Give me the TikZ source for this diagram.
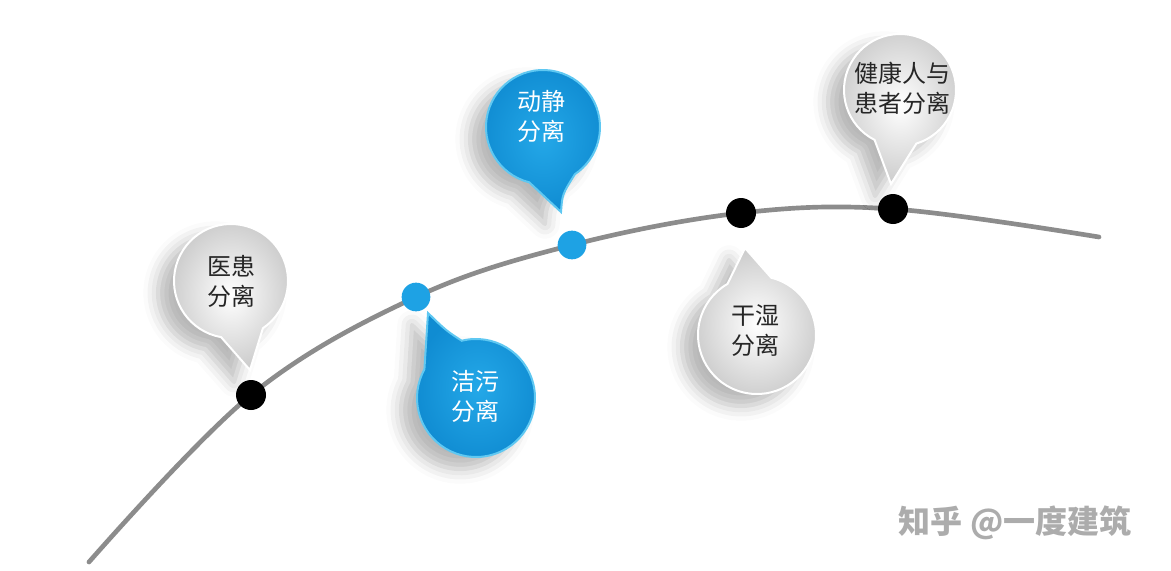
\documentclass[tikz,border=0pt]{standalone}
\usepackage{fontspec}
\newfontfamily\cjk{Noto Sans CJK SC}
\usetikzlibrary{calc,shadows.blur}
\definecolor{curvegrey}{RGB}{140,140,140}
\definecolor{dotblue}{RGB}{30,162,228}
\definecolor{bubbleblue}{RGB}{36,168,232}
\definecolor{bubbleblueout}{RGB}{16,140,210}
\definecolor{rimblue}{RGB}{95,200,242}
\definecolor{markgrey}{RGB}{172,172,172}

\begin{document}
\begin{tikzpicture}[x=0.75pt,y=0.75pt,yscale=-1,xscale=1,
  greybubble/.style={inner color=white,outer color=black!20,draw=white,line width=1.5,line join=miter,
    blur shadow={shadow xshift=-12pt,shadow yshift=-9pt,shadow blur radius=11pt,shadow opacity=28}},
  bluebubble/.style={inner color=bubbleblue,outer color=bubbleblueout,draw=rimblue,line width=1.5,line join=miter,
    blur shadow={shadow xshift=-12pt,shadow yshift=-9pt,shadow blur radius=11pt,shadow opacity=28}},
  blackdot/.style={circle,fill=black,inner sep=0pt,minimum size=22.5pt},
  bluedot/.style={circle,fill=dotblue,inner sep=0pt,minimum size=21.5pt},
  darklabel/.style={align=center,text=black!85,font=\cjk\fontsize{18}{22.5}\selectfont},
  lightlabel/.style={align=center,text=white,font=\cjk\fontsize{18}{22.5}\selectfont}]
\useasboundingbox (0,0) rectangle (1171,571);

%Curve
\draw [color=curvegrey,line width=3.5,line cap=round] plot [smooth,tension=0.6] coordinates {(89,562) (251,395) (416,297) (572,245) (741,213) (893,209) (1099,237)};

%Centres of the bubbles
\coordinate (c1) at (231,281);
\coordinate (c2) at (476,398);
\coordinate (c3) at (543,127);
\coordinate (c4) at (757,335);
\coordinate (c5) at (900,90);

%Shape: Bubble (grey, down)
\path [greybubble] ($(c1)+(100:57)$) arc [start angle=100,end angle=416,radius=57] -- (250,370) -- cycle;
%Shape: Bubble (blue, up)
\path [bluebubble] ($(c2)+(256:59)$) arc [start angle=256,end angle=569,radius=59] -- (428,313) .. controls ($(c2)+(246:74)$) .. cycle;
%Shape: Bubble (blue, down)
\path [bluebubble] ($(c3)+(104:57)$) arc [start angle=104,end angle=416,radius=57] .. controls ($(c3)+(74:70)$) .. (561,212) -- cycle;
%Shape: Bubble (grey, up)
\path [greybubble] ($(c4)+(284:59)$) arc [start angle=284,end angle=600,radius=59] -- (745,248) -- cycle;
%Shape: Bubble (grey, down)
\path [greybubble] ($(c5)+(117:56)$) arc [start angle=117,end angle=433,radius=56] -- (891,184) -- cycle;

%Dots on the curve
\node [blackdot] (d1) at (251,395) {};
\node [bluedot] (d2) at (416,297) {};
\node [bluedot] (d3) at (572,245) {};
\node [blackdot] (d4) at (741,213) {};
\node [blackdot] (d5) at (893,209) {};

% Text Node
\node [darklabel] (t1) at (231,281) {医患\\分离};
% Text Node
\node [lightlabel] (t2) at (475,396) {洁污\\分离};
% Text Node
\node [lightlabel] (t3) at (541,116) {动静\\分离};
% Text Node
\node [darklabel] (t4) at (755,331) {干湿\\分离};
% Text Node
\node [darklabel] (t5) at (902,88) {健康人与\\患者分离};
% Text Node
\node [text=markgrey,font=\cjk\bfseries\fontsize{24}{28}\selectfont] (wm) at (1015,523) {知乎 @一度建筑};

\end{tikzpicture}
\end{document}
